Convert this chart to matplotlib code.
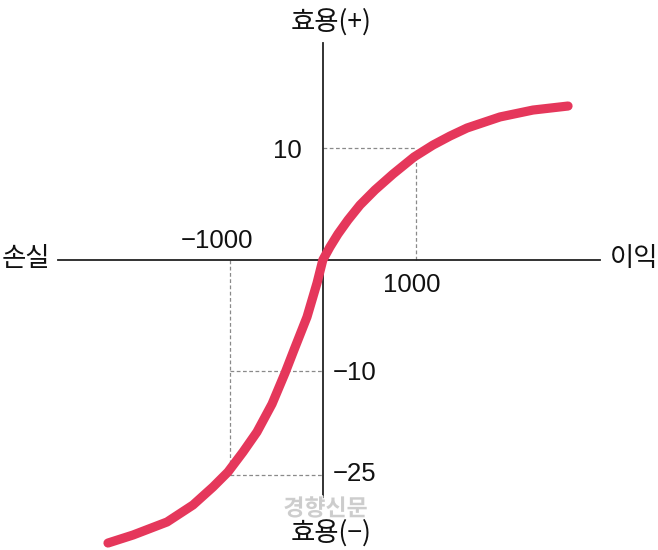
import numpy as np
import matplotlib
matplotlib.use('Agg')
import matplotlib.pyplot as plt
import matplotlib.patheffects as pe
from matplotlib import font_manager

# value function (gain/loss -> utility)
gain_x = [-2310, -2041, -1675, -1396, -1181, -1020, -858, -708, -546, -406,
          -310, -170, -62, 0, 77, 163, 271, 400, 561, 755,
          981, 1185, 1368, 1551, 1905, 2260, 2637]
utility_y = [-34.86, -33.70, -31.81, -29.35, -26.74, -24.57, -21.67, -18.77, -14.71, -10.22,
             -8.07, -5.11, -2.06, 0, 1.17, 2.33, 3.59, 4.93, 6.28, 7.71,
             9.24, 10.31, 11.12, 11.84, 12.83, 13.45, 13.81]

# marked reference values
x_marks = [1000, -1000]
x_mark_labels = ['1000', '\u22121000']
y_marks = [10, -10, -25]
y_mark_labels = ['10', '\u221210', '\u221225']

axis_labels = {'left': '손실', 'right': '이익', 'top': '효용(+)', 'bottom': '효용(\u2212)'}
watermark = '경향신문'

CURVE_COLOR = '#e5375b'
AXIS_COLOR = '#222222'
GUIDE_COLOR = '#8a8a8a'
KOR = ['Noto Sans CJK KR', 'DejaVu Sans']

# narrow digits if a condensed face is around, else plain Liberation Sans
installed = {f.name for f in font_manager.fontManager.ttflist}
if 'Liberation Sans Narrow' in installed:
    NUM, NUM_SIZE = ['Liberation Sans Narrow', 'DejaVu Sans'], 21
elif 'DejaVu Sans Condensed' in installed:
    NUM, NUM_SIZE = ['DejaVu Sans Condensed', 'DejaVu Sans'], 18
else:
    NUM, NUM_SIZE = ['Liberation Sans', 'DejaVu Sans'], 18.5

# utility axis is squeezed below -10 in the original drawing
SQUEEZE = 0.619


def forward(v):
    v = np.asarray(v, dtype=float)
    return np.where(v >= -10, v, -10 + (v + 10) * SQUEEZE)


def inverse(t):
    t = np.asarray(t, dtype=float)
    return np.where(t >= -10, t, -10 + (t + 10) / SQUEEZE)


fig = plt.figure(figsize=(6.58, 5.50), dpi=100)
ax = fig.add_axes([0, 0, 1, 1])
ax.set_yscale('function', functions=(forward, inverse))
ax.set_xlim(-3471, 3604)
ax.set_ylim(-35.87, 23.32)
ax.axis('off')

# axes cross
x_end = (-2847, 2981)
y_end = (19.46, -28.33)
ax.plot(x_end, [0, 0], color=AXIS_COLOR, lw=1.3, zorder=2)
ax.plot([0, 0], y_end, color=AXIS_COLOR, lw=1.3, zorder=2)

# dotted guides
guide = dict(color=GUIDE_COLOR, lw=0.9, ls=(0, (3, 2)), zorder=1)
ax.plot([0, x_marks[0]], [y_marks[0], y_marks[0]], **guide)
ax.plot([x_marks[0], x_marks[0]], [0, y_marks[0]], **guide)
ax.plot([x_marks[1], x_marks[1]], [0, y_marks[2]], **guide)
ax.plot([x_marks[1], 0], [y_marks[1], y_marks[1]], **guide)
ax.plot([x_marks[1], 0], [y_marks[2], y_marks[2]], **guide)

# the curve
ax.plot(gain_x, utility_y, color=CURVE_COLOR, lw=6.6,
        solid_capstyle='round', solid_joinstyle='round', zorder=3)

# number labels
num = dict(fontsize=NUM_SIZE, family=NUM, color='#111111', textcoords='offset points')
ax.annotate(x_mark_labels[0], xy=(x_marks[0], 0), xytext=(-3, -18), ha='center', va='center', **num)
ax.annotate(x_mark_labels[1], xy=(x_marks[1], 0), xytext=(-9, 13.5), ha='center', va='center', **num)
ax.annotate(y_mark_labels[0], xy=(0, y_marks[0]), xytext=(-15.5, -1.5), ha='right', va='center', **num)
ax.annotate(y_mark_labels[1], xy=(0, y_marks[1]), xytext=(7.5, -1), ha='left', va='center', **num)
ax.annotate(y_mark_labels[2], xy=(0, y_marks[2]), xytext=(7.5, 0.5), ha='left', va='center', **num)

# axis end labels
kor = dict(fontsize=19, family=KOR, color='#111111', textcoords='offset points')
ax.annotate(axis_labels['left'], xy=(x_end[0], 0), xytext=(-6, 1), ha='right', va='center', **kor)
ax.annotate(axis_labels['right'], xy=(x_end[1], 0), xytext=(7, 1), ha='left', va='center', **kor)
ax.annotate(axis_labels['top'], xy=(0, y_end[0]), xytext=(6, 15), ha='center', va='center', **kor)
ax.annotate(axis_labels['bottom'], xy=(0, y_end[1]), xytext=(6, -25), ha='center', va='center', **kor)

# watermark
ax.annotate(watermark, xy=(0, y_end[1]), xytext=(2, -8), textcoords='offset points',
            ha='center', va='center', fontsize=16.5, family=KOR, fontweight='bold',
            color='#c9c9c9', alpha=0.9, zorder=5,
            path_effects=[pe.withStroke(linewidth=2, foreground='white')])

fig.savefig('out.png', dpi=100)
